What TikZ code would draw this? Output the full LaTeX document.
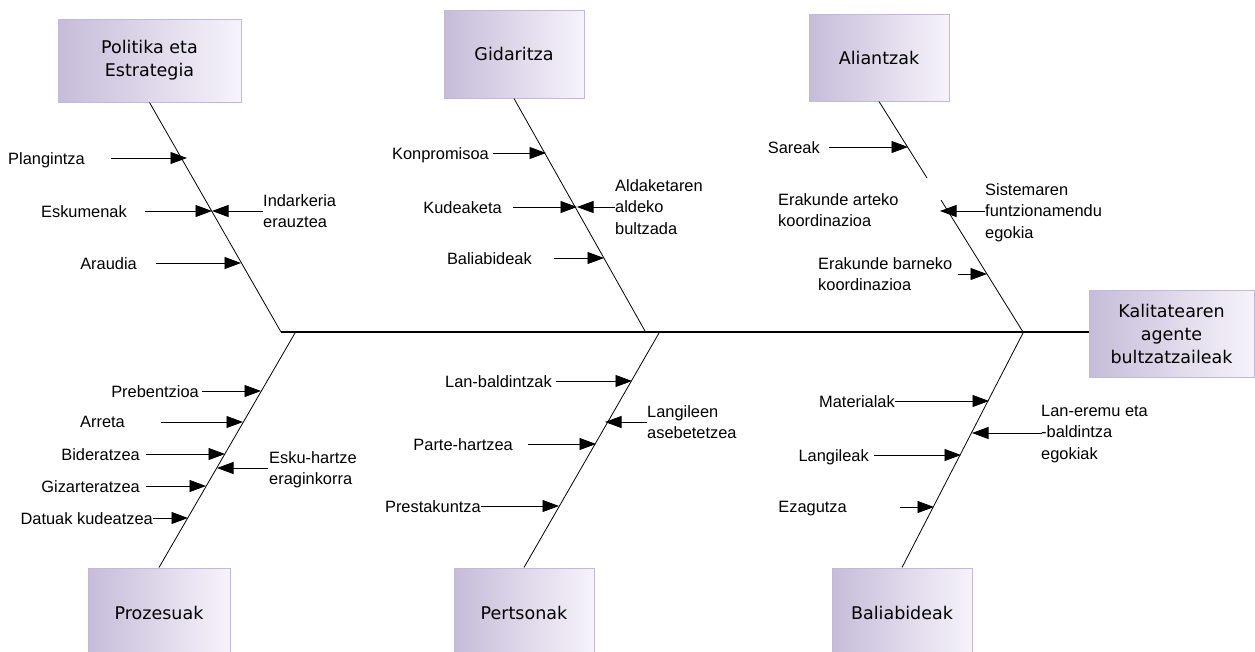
\documentclass[tikz,border=0pt]{standalone}
\usepackage{fontspec}
\setmainfont{Liberation Sans}
\newfontfamily\boxfont{DejaVu Sans}
\usetikzlibrary{arrows.meta}
\definecolor{boxleft}{HTML}{C6BCD9}
\definecolor{boxright}{HTML}{F6F3FA}
\definecolor{boxborder}{HTML}{C4B8DA}
\begin{document}
\begin{tikzpicture}[x=1pt,y=-1pt,
  cause/.style={inner sep=0pt, font=\fontsize{16.4}{21.5}\selectfont, align=left},
  headbox/.style={draw=boxborder, line width=1pt, left color=boxleft, right color=boxright,
    font=\boxfont\fontsize{17.5}{23}\selectfont, align=center, inner sep=0pt},
  bone/.style={line width=0.8pt},
  spine/.style={line width=1.4pt},
  arr/.style={line width=0.8pt, -{Triangle[length=16.5pt,width=12pt]}}]
\useasboundingbox (0,0) rectangle (1255,651);
\clip (0,0) rectangle (1255,651);
\fill[white] (0,0) rectangle (1255,651);

% heads
\node[headbox, minimum width=183pt, minimum height=83pt] (politika) at (149.5,60.5) {Politika eta\\Estrategia};
\node[headbox, minimum width=140pt, minimum height=88pt] (gidaritza) at (514,54) {Gidaritza};
\node[headbox, minimum width=140pt, minimum height=87pt] (aliantzak) at (879,57.5) {Aliantzak};
\node[headbox, minimum width=165pt, minimum height=87pt] (kalitatea) at (1171.5,333.5) {Kalitatearen\\agente\\bultzatzaileak};
\node[headbox, minimum width=142pt, minimum height=90pt] (prozesuak) at (159,613) {Prozesuak};
\node[headbox, minimum width=140pt, minimum height=90pt] (pertsonak) at (524,613) {Pertsonak};
\node[headbox, minimum width=140pt, minimum height=90pt] (baliabideak) at (902,613) {Baliabideak};

% spine and bones
\coordinate (j1) at (281,332);
\coordinate (j2) at (645,331);
\coordinate (j3) at (1023,332);
\coordinate (k1) at (295,333);
\coordinate (k2) at (659,333);
\coordinate (k3) at (1023,333);
\coordinate (g1) at (927,178);
\coordinate (g2) at (941,200);
\draw[spine] (j1) -- (j1 -| kalitatea.west);
\draw[bone] (politika.south) -- (j1);
\draw[bone] (gidaritza.south) -- (j2);
\draw[bone] (aliantzak.south) -- (g1);
\draw[bone] (g2) -- (j3);
\draw[bone] (k1) -- (prozesuak.north);
\draw[bone] (k2) -- (pertsonak.north);
\draw[bone] (k3) -- (baliabideak.north);

% Politika eta Estrategia
\node[cause, anchor=north east] (plan) at (85,152) {Plangintza};
\coordinate (plan-t) at (111,158); \coordinate (plan-h) at (187,158);
\draw[arr] (plan-t) -- (plan-h);
\node[cause, anchor=north east] (esku) at (127,205) {Eskumenak};
\coordinate (esku-t) at (145,211); \coordinate (esku-h) at (212,211);
\draw[arr] (esku-t) -- (esku-h);
\node[cause, anchor=north west] (indar) at (263,194) {Indarkeria\\erauztea};
\coordinate (indar-t) at (263,211); \coordinate (indar-h) at (212,211);
\draw[arr] (indar-t) -- (indar-h);
\node[cause, anchor=north east] (araudia) at (137,257) {Araudia};
\coordinate (araudia-t) at (156,263); \coordinate (araudia-h) at (241,263);
\draw[arr] (araudia-t) -- (araudia-h);

% Gidaritza
\node[cause, anchor=north east] (konp) at (489,147) {Konpromisoa};
\coordinate (konp-t) at (493,153); \coordinate (konp-h) at (546,153);
\draw[arr] (konp-t) -- (konp-h);
\node[cause, anchor=north east] (kude) at (502,201) {Kudeaketa};
\coordinate (kude-t) at (513,207); \coordinate (kude-h) at (577,207);
\draw[arr] (kude-t) -- (kude-h);
\node[cause, anchor=north west] (alda) at (615,179) {Aldaketaren\\aldeko\\bultzada};
\coordinate (alda-t) at (615,207); \coordinate (alda-h) at (577,207);
\draw[arr] (alda-t) -- (alda-h);
\node[cause, anchor=north east] (bali1) at (532,252) {Baliabideak};
\coordinate (bali1-t) at (554,258); \coordinate (bali1-h) at (604,258);
\draw[arr] (bali1-t) -- (bali1-h);

% Aliantzak
\node[cause, anchor=north east] (sare) at (820,141) {Sareak};
\coordinate (sare-t) at (829,147); \coordinate (sare-h) at (908,147);
\draw[arr] (sare-t) -- (sare-h);
\node[cause, anchor=north west] (arteko) at (778,193) {Erakunde arteko\\koordinazioa};
\node[cause, anchor=north west] (sist) at (985,183) {Sistemaren\\funtzionamendu\\egokia};
\coordinate (sist-t) at (985,211); \coordinate (sist-h) at (940,211);
\draw[arr] (sist-t) -- (sist-h);
\node[cause, anchor=north west] (barneko) at (818,257) {Erakunde barneko\\koordinazioa};
\coordinate (barneko-t) at (958,274); \coordinate (barneko-h) at (987,274);
\draw[arr] (barneko-t) -- (barneko-h);

% Prozesuak
\node[cause, anchor=north east] (preb) at (199,385) {Prebentzioa};
\coordinate (preb-t) at (202,391); \coordinate (preb-h) at (261,391);
\draw[arr] (preb-t) -- (preb-h);
\node[cause, anchor=north east] (arreta) at (125,416) {Arreta};
\coordinate (arreta-t) at (161,422); \coordinate (arreta-h) at (243,422);
\draw[arr] (arreta-t) -- (arreta-h);
\node[cause, anchor=north east] (bide) at (140,448) {Bideratzea};
\coordinate (bide-t) at (146,454); \coordinate (bide-h) at (225,454);
\draw[arr] (bide-t) -- (bide-h);
\node[cause, anchor=north west] (eskuh) at (269,451) {Esku-hartze\\eraginkorra};
\coordinate (eskuh-t) at (268,468); \coordinate (eskuh-h) at (217,468);
\draw[arr] (eskuh-t) -- (eskuh-h);
\node[cause, anchor=north east] (giza) at (140,480) {Gizarteratzea};
\coordinate (giza-t) at (146,486); \coordinate (giza-h) at (206,486);
\draw[arr] (giza-t) -- (giza-h);
\node[cause, anchor=north east] (datu) at (153,512) {Datuak kudeatzea};
\coordinate (datu-t) at (153,518); \coordinate (datu-h) at (188,518);
\draw[arr] (datu-t) -- (datu-h);

% Pertsonak
\node[cause, anchor=north east] (lanb) at (552,375) {Lan-baldintzak};
\coordinate (lanb-t) at (556,381); \coordinate (lanb-h) at (632,381);
\draw[arr] (lanb-t) -- (lanb-h);
\node[cause, anchor=north west] (langileen) at (647,405) {Langileen\\asebetetzea};
\coordinate (langileen-t) at (647,422); \coordinate (langileen-h) at (605,422);
\draw[arr] (langileen-t) -- (langileen-h);
\node[cause, anchor=north east] (parte) at (513,438) {Parte-hartzea};
\coordinate (parte-t) at (528,444); \coordinate (parte-h) at (596,444);
\draw[arr] (parte-t) -- (parte-h);
\node[cause, anchor=north east] (presta) at (481,500) {Prestakuntza};
\coordinate (presta-t) at (481,506); \coordinate (presta-h) at (559,506);
\draw[arr] (presta-t) -- (presta-h);

% Baliabideak
\node[cause, anchor=north east] (mate) at (895,395) {Materialak};
\coordinate (mate-t) at (895,401); \coordinate (mate-h) at (989,401);
\draw[arr] (mate-t) -- (mate-h);
\node[cause, anchor=north west] (laneremu) at (1041,405) {Lan-eremu eta\\-baldintza\\egokiak};
\coordinate (laneremu-t) at (1042,433); \coordinate (laneremu-h) at (972,433);
\draw[arr] (laneremu-t) -- (laneremu-h);
\node[cause, anchor=north east] (langileak) at (869,449) {Langileak};
\coordinate (langileak-t) at (874,455); \coordinate (langileak-h) at (961,455);
\draw[arr] (langileak-t) -- (langileak-h);
\node[cause, anchor=north east] (ezag) at (847,501) {Ezagutza};
\coordinate (ezag-t) at (900,507); \coordinate (ezag-h) at (934,507);
\draw[arr] (ezag-t) -- (ezag-h);
\end{tikzpicture}
\end{document}
